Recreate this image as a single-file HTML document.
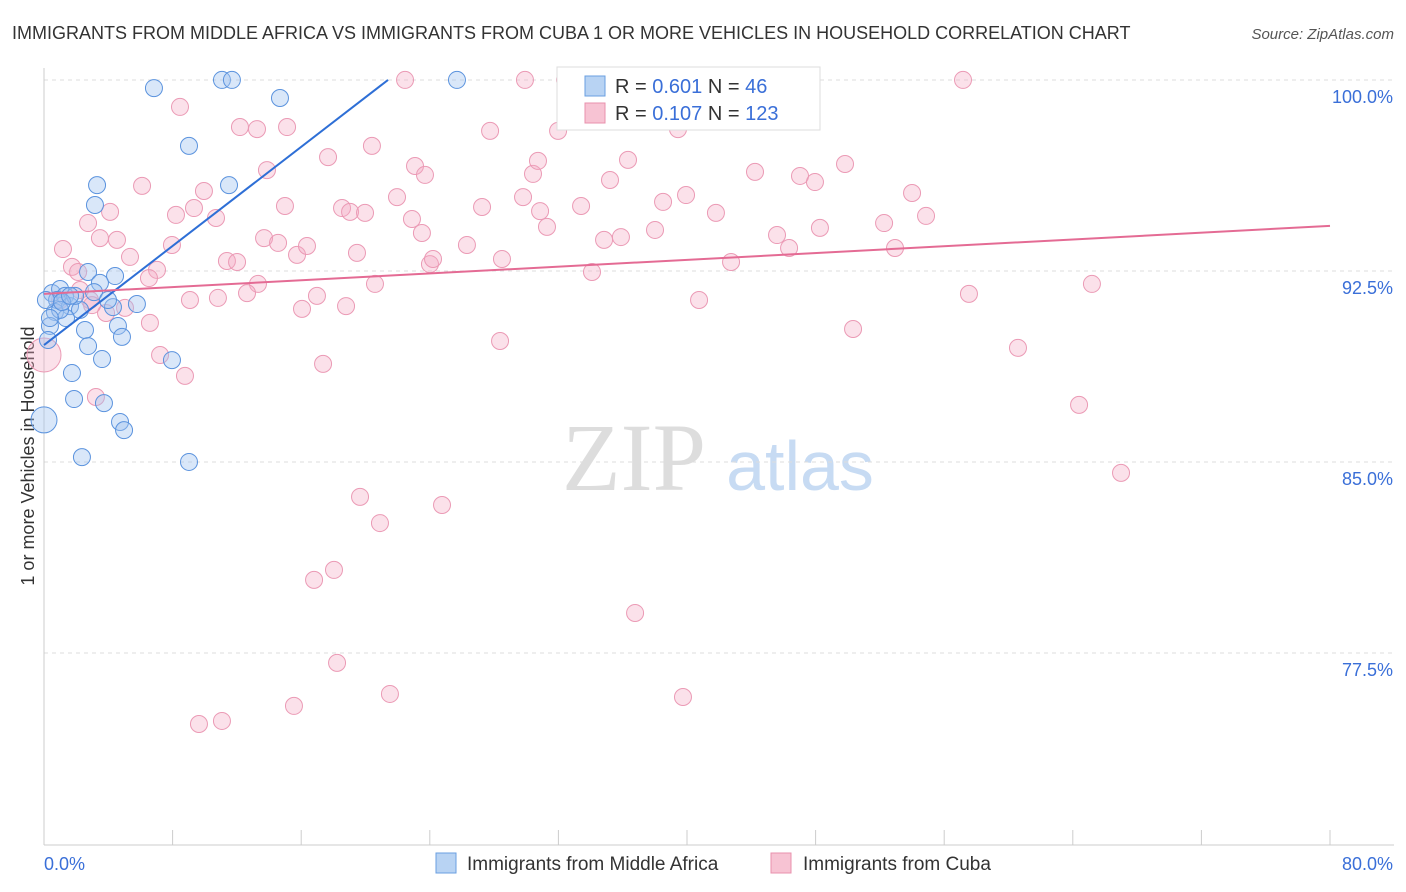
<!DOCTYPE html>
<html><head><meta charset="utf-8"><style>
body{margin:0;background:#fff;font-family:"Liberation Sans",sans-serif}
svg{display:block}
</style></head><body>
<svg id="chart" width="1406" height="892">
<text x="12" y="39" font-size="18" fill="#333">IMMIGRANTS FROM MIDDLE AFRICA VS IMMIGRANTS FROM CUBA 1 OR MORE VEHICLES IN HOUSEHOLD CORRELATION CHART</text>
<text x="1394" y="39" font-size="15" fill="#555" font-style="italic" text-anchor="end">Source: ZipAtlas.com</text>
<text x="34" y="456" font-size="18" fill="#333" text-anchor="middle" transform="rotate(-90 34 456)">1 or more Vehicles in Household</text>
<g><text x="634" y="490" font-size="96" fill="#ddd" font-family="Liberation Serif,serif" text-anchor="middle">ZIP</text><text x="800" y="490" font-size="70" fill="#c7dbf3" text-anchor="middle">atlas</text></g>
<g id="grid"></g><g id="axes"></g><g id="pts"></g><g id="lines"></g>
<g>
<rect x="557" y="67" width="263" height="63" fill="#fff" stroke="#ddd"/>
<rect x="585" y="76" width="20" height="20" fill="#b8d3f3" stroke="#6a9fe0"/>
<rect x="585" y="103" width="20" height="20" fill="#f7c3d3" stroke="#e890ad"/>
<text x="615" y="93" font-size="20" fill="#333">R = <tspan fill="#3a6fd8">0.601</tspan>   N =  <tspan fill="#3a6fd8">46</tspan></text>
<text x="615" y="120" font-size="20" fill="#333">R = <tspan fill="#3a6fd8">0.107</tspan>   N = <tspan fill="#3a6fd8">123</tspan></text>
</g>
<g>
<rect x="436" y="853" width="20" height="20" fill="#b8d3f3" stroke="#6a9fe0"/>
<text x="467" y="870" font-size="19" fill="#333">Immigrants from Middle Africa</text>
<rect x="771" y="853" width="20" height="20" fill="#f7c3d3" stroke="#e890ad"/>
<text x="803" y="870" font-size="19" fill="#333">Immigrants from Cuba</text>
</g>
</svg>
<script>
const yTicks=[100,92.5,85,77.5];
const yTickLabels=["100.0%","92.5%","85.0%","77.5%"];
const xTicks=[0,8,16,24,32,40,48,56,64,72,80];
const blueX=[6.84,11.07,11.69,14.68,25.69,9.02,3.30,11.51,3.17,0.50,1.0,1.31,2.74,4.42,3.48,3.11,0.81,1.62,2.24,0.68,1.37,0.37,2.55,5.78,4.29,4.60,4.85,2.74,3.61,7.96,1.74,1.87,3.73,4.73,4.98,2.36,9.02,0,0.25,1.0,1.93,3.98,0.12,1.12,1.62,0.37];
const blueY=[100.35,100.67,100.67,99.96,100.67,98.08,96.54,96.54,95.76,92.30,92.46,92.19,93.13,92.97,92.70,92.34,92.03,91.79,91.64,91.56,91.32,91.01,90.85,91.87,91.75,91.01,90.58,90.22,89.71,89.67,89.16,88.14,87.98,87.24,86.92,85.86,85.67,87.32,90.46,91.64,92.19,92.03,92.03,91.95,92.19,91.32];
const pinkX=[1.18,2.74,1.74,2.12,3.48,4.11,4.54,6.10,5.35,7.03,6.53,8.46,7.96,8.21,9.33,9.95,10.70,11.38,12.01,12.19,13.25,13.87,15.12,14.99,13.69,14.56,15.74,16.36,13.31,9.08,10.82,12.63,16.05,16.98,18.79,17.67,18.54,19.04,19.97,20.40,19.47,20.59,21.96,22.89,23.51,23.08,23.70,24.01,24.20,22.46,26.31,27.25,27.75,28.49,29.80,29.92,30.42,30.73,30.86,31.29,31.98,32.41,33.41,34.09,34.84,35.21,35.89,36.33,38.01,38.51,39.44,39.94,40.75,41.80,42.74,44.23,45.60,46.35,47.03,47.96,48.27,49.83,50.33,52.26,52.94,54.00,54.87,57.17,57.54,60.59,64.39,65.19,67.00,0,2.86,3.23,3.86,5.04,6.59,7.22,8.77,17.36,19.66,20.90,24.76,28.37,16.80,18.04,18.23,21.52,15.55,11.07,9.64,36.77,39.75,2.24,2.99,1.00];
const pinkY=[94.03,95.05,93.33,93.13,94.46,95.49,94.39,96.51,93.72,93.21,92.89,99.61,94.19,95.37,95.64,96.31,95.25,93.56,93.52,98.82,98.74,97.13,98.82,95.72,94.46,94.27,93.80,94.15,92.66,92.03,92.11,92.30,91.68,92.19,91.79,97.64,95.64,95.49,95.45,98.08,93.88,92.66,96.07,95.21,94.66,97.29,96.94,93.44,93.64,100.67,94.19,95.68,98.67,93.64,96.07,100.67,96.98,97.49,95.52,94.90,98.67,100.67,95.72,93.13,94.39,96.74,94.50,97.53,94.78,95.88,98.74,96.15,92.03,95.45,93.52,97.06,94.58,94.07,96.90,96.66,94.86,97.37,90.89,95.05,94.07,96.23,95.33,100.67,92.27,90.15,87.91,92.66,85.24,89.87,92.03,88.22,91.52,91.72,91.13,89.87,89.05,89.52,84.30,83.27,83.98,90.42,81.04,81.43,77.78,76.56,76.09,75.50,75.38,79.74,76.44,92.42,91.83,92.03];
const blueLine=[[0,90.26],[21.4,100.67]];
const pinkLine=[[0,92.27],[80,94.94]];
const NS="http://www.w3.org/2000/svg";
const X=v=>44+v/80*1286;
const Y=v=>97+(100-v)*25.467;
function mk(tag,attrs,parent){const e=document.createElementNS(NS,tag);for(const k in attrs)e.setAttribute(k,attrs[k]);document.getElementById(parent).appendChild(e);return e;}
yTicks.forEach((t,i)=>{
 const g=mk('line',{x1:44,x2:1394,y1:Y(t)-17,y2:Y(t)-17,stroke:'#ddd','stroke-dasharray':'4 4'},'grid');
 
 
 const l=mk('text',{x:1393,y:Y(t)+6,'font-size':18,fill:'#3a6fd8','text-anchor':'end'},'axes');
 l.textContent=yTickLabels[i];
 
 
});
const ax=mk('line',{x1:44,x2:44,y1:68,y2:845,stroke:'#ccc'},'axes');


const bx=mk('line',{x1:44,x2:1394,y1:845,y2:845,stroke:'#ccc'},'axes');


xTicks.forEach(t=>{
 const tk=mk('line',{x1:X(t),x2:X(t),y1:830,y2:845,stroke:'#ccc'},'axes');
 
 
});
const xl0=mk('text',{x:44,y:870,'font-size':18,fill:'#3a6fd8'},'axes');xl0.textContent='0.0%';


const xl1=mk('text',{x:1393,y:870,'font-size':18,fill:'#3a6fd8','text-anchor':'end'},'axes');xl1.textContent='80.0%';


pinkX.forEach((x,i)=>{
 const c=mk('circle',{cx:X(x),cy:Y(pinkY[i]),r:(x===0?17:8.5),fill:'rgba(244,170,195,0.35)',stroke:'#eb9ab5','stroke-width':1},'pts');
 
 
});
blueX.forEach((x,i)=>{
 const c=mk('circle',{cx:X(x),cy:Y(blueY[i]),r:(x===0?13:8.5),fill:'rgba(160,196,240,0.4)',stroke:'#5b93de','stroke-width':1},'pts');
 
 
});
const bl=mk('line',{x1:X(blueLine[0][0]),y1:Y(blueLine[0][1]),x2:X(blueLine[1][0]),y2:Y(blueLine[1][1]),stroke:'#2e6fd6','stroke-width':2},'lines');


const pl=mk('line',{x1:X(pinkLine[0][0]),y1:Y(pinkLine[0][1]),x2:X(pinkLine[1][0]),y2:Y(pinkLine[1][1]),stroke:'#e46b94','stroke-width':2},'lines');


</script>
</body></html>
